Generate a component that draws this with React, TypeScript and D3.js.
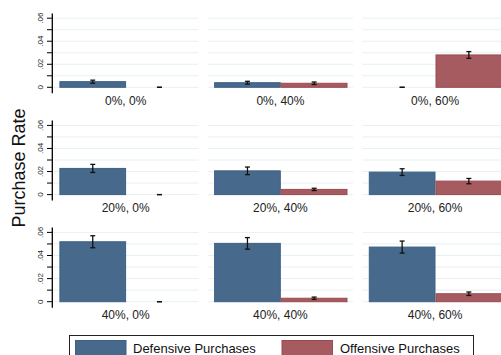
import React from "react";
import * as d3 from "d3";

// Panel labels: (defensive rate, offensive rate) treatment cells, row-major
const panelLabels = [
  "0%, 0%", "0%, 40%", "0%, 60%",
  "20%, 0%", "20%, 40%", "20%, 60%",
  "40%, 0%", "40%, 40%", "40%, 60%",
];
const defensive = [0.0049, 0.004, 0, 0.0227, 0.0206, 0.0195, 0.0519, 0.0505, 0.0473];
const defensiveErr = [0.0013, 0.0012, 0, 0.0035, 0.0033, 0.0029, 0.0052, 0.005, 0.0052];
const offensive = [0, 0.0035, 0.0281, 0, 0.0045, 0.0117, 0, 0.003, 0.0069];
const offensiveErr = [0, 0.0011, 0.0029, 0, 0.001, 0.0023, 0, 0.001, 0.0015];
const seriesNames = ["Defensive Purchases", "Offensive Purchases"];
const yTicks = [0, 0.02, 0.04, 0.06];
const yGrid = [0, 0.01, 0.02, 0.03, 0.04, 0.05, 0.06];
const tickFormat = (v: number) => (v === 0 ? "0" : d3.format(".2f")(v).replace(/^0/, ""));

const W = 501;
const H = 355;
const FONT = "'Liberation Sans', Arial, sans-serif";
const BLUE = "#476a8c";
const BLUE_EDGE = "#3d6185";
const RED = "#a65b60";
const RED_EDGE = "#9c4a52";

const rowZero = [87.3, 194.6, 301.7];
const rowTop = [18.2, 125.4, 232.4];
const panelLeft = 53;
const panelStep = 154.7;
const panelWidth = 145.4;

export default function App() {
  const colX = d3.scaleLinear().domain([0, 1]).range([panelLeft, panelLeft + panelStep]);
  const series = [
    { name: seriesNames[0], values: defensive, errs: defensiveErr, fill: BLUE, edge: BLUE_EDGE },
    { name: seriesNames[1], values: offensive, errs: offensiveErr, fill: RED, edge: RED_EDGE },
  ];

  return (
    <svg
      width={W}
      height={H}
      viewBox={`0 0 ${W} ${H}`}
      style={{ position: "absolute", left: 0, top: 0, background: "#fff" }}
      fontFamily={FONT}
    >
      <rect x={0} y={0} width={W} height={H} fill="#fff" />
      {panelLabels.map((label, i) => {
        const r = Math.floor(i / 3);
        const c = i % 3;
        const y = d3.scaleLinear().domain([0, 0.06]).range([rowZero[r], rowTop[r]]);
        const left = colX(c);
        const xb = d3
          .scaleBand<string>()
          .domain(seriesNames)
          .range([left + 6.4, left + 6.4 + 133.4])
          .padding(0);
        return (
          <g key={label}>
            {yGrid.map((g) => (
              <line
                key={g}
                x1={left}
                x2={left + panelWidth}
                y1={y(g)}
                y2={y(g)}
                stroke="#e8f0f2"
                strokeWidth={1}
              />
            ))}
            {series.map((s) => {
              const v = s.values[i];
              const e = s.errs[i];
              const bx = xb(s.name)!;
              const bw = xb.bandwidth();
              const cx = bx + bw / 2;
              return (
                <g key={s.name}>
                  {v > 0 && (
                    <rect
                      x={bx + 0.5}
                      y={y(v)}
                      width={bw - 1}
                      height={y(0) - y(v)}
                      fill={s.fill}
                      stroke={s.edge}
                      strokeWidth={1}
                    />
                  )}
                  <g stroke="#111" strokeWidth={1.3}>
                    <line x1={cx} x2={cx} y1={y(v + e)} y2={y(v - e)} />
                    <line x1={cx - 2.5} x2={cx + 2.5} y1={y(v + e)} y2={y(v + e)} />
                    <line x1={cx - 2.5} x2={cx + 2.5} y1={y(v - e)} y2={y(v - e)} />
                  </g>
                </g>
              );
            })}
            <text
              x={left + panelWidth / 2}
              y={rowZero[r] + 17.5}
              textAnchor="middle"
              fontSize={12}
              fill="#222"
            >
              {label}
            </text>
            {c === 0 && (
              <g>
                <line
                  x1={left - 0.7}
                  x2={left - 0.7}
                  y1={rowZero[r] + 6}
                  y2={rowTop[r] - 4.8}
                  stroke="#000"
                  strokeWidth={1.3}
                />
                {yGrid.map((t) => (
                  <line
                    key={t}
                    x1={left - 6}
                    x2={left - 0.7}
                    y1={y(t)}
                    y2={y(t)}
                    stroke="#000"
                    strokeWidth={1}
                  />
                ))}
                {yTicks.map((t) => (
                  <text
                    key={t}
                    transform={`translate(${left - 10},${y(t)}) rotate(-90)`}
                    textAnchor="middle"
                    fontSize={8}
                    fill="#222"
                  >
                    {tickFormat(t)}
                  </text>
                ))}
              </g>
            )}
          </g>
        );
      })}
      <text
        transform={`translate(24.5,168) rotate(-90)`}
        textAnchor="middle"
        fontSize={18}
        fill="#111"
      >
        Purchase Rate
      </text>
      <g>
        <rect x={69.5} y={335.5} width={404} height={30} fill="#fff" stroke="#222" strokeWidth={1} />
        <rect x={75.5} y={340.5} width={50.5} height={20} fill={BLUE} stroke={BLUE_EDGE} />
        <text x={133} y={353} fontSize={13} fill="#111">
          {seriesNames[0]}
        </text>
        <rect x={282} y={340.5} width={50.5} height={20} fill={RED} stroke={RED_EDGE} />
        <text x={340} y={353} fontSize={13} fill="#111">
          {seriesNames[1]}
        </text>
      </g>
    </svg>
  );
}
